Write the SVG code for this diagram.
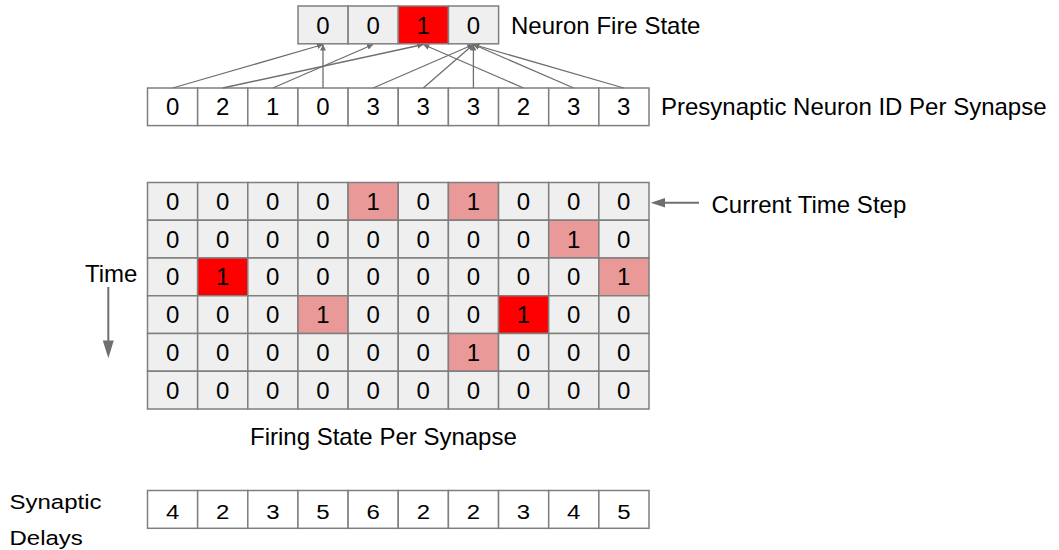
<svg xmlns="http://www.w3.org/2000/svg" width="1059" height="550" viewBox="0 0 1059 550">
<defs>
<style>
.c{stroke:#7f7f7f;stroke-width:1.5}
.g{fill:#efefef}
.w{fill:#ffffff}
.r{fill:#ff0000}
.p{fill:#ea9999}
text{font-family:"Liberation Sans",Arial,sans-serif;font-size:24px;fill:#000}
.m{text-anchor:middle}
.ln{stroke:#6f6f6f;stroke-width:1.3;fill:none}
</style>
<marker id="ah" viewBox="0 0 10 10" refX="10" refY="5" markerWidth="6" markerHeight="6" markerUnits="userSpaceOnUse" orient="auto">
<path d="M0,0 L10,5 L0,10 z" fill="#6f6f6f"/>
</marker>
</defs>
<rect width="1059" height="550" fill="#ffffff"/>

<g id="neuron-fire-state">
<rect class="c g" x="298" y="6" width="50.15" height="37.8"/>
<rect class="c g" x="348.15" y="6" width="50.15" height="37.8"/>
<rect class="c r" x="398.3" y="6" width="50.15" height="37.8"/>
<rect class="c g" x="448.45" y="6" width="50.15" height="37.8"/>
<text class="m" x="323" y="33.5">0</text>
<text class="m" x="373.1" y="33.5">0</text>
<text class="m" x="423.3" y="33.5">1</text>
<text class="m" x="473.4" y="33.5">0</text>
<text x="511" y="33.5">Neuron Fire State</text>
</g>

<g id="presynaptic-ids">
<rect class="c w" x="147.5" y="88" width="50.15" height="37.6"/>
<rect class="c w" x="197.65" y="88" width="50.15" height="37.6"/>
<rect class="c w" x="247.8" y="88" width="50.15" height="37.6"/>
<rect class="c w" x="297.95" y="88" width="50.15" height="37.6"/>
<rect class="c w" x="348.1" y="88" width="50.15" height="37.6"/>
<rect class="c w" x="398.25" y="88" width="50.15" height="37.6"/>
<rect class="c w" x="448.4" y="88" width="50.15" height="37.6"/>
<rect class="c w" x="498.55" y="88" width="50.15" height="37.6"/>
<rect class="c w" x="548.7" y="88" width="50.15" height="37.6"/>
<rect class="c w" x="598.85" y="88" width="50.15" height="37.6"/>
<text class="m" x="172.6" y="115.3">0</text>
<text class="m" x="222.7" y="115.3">2</text>
<text class="m" x="272.8" y="115.3">1</text>
<text class="m" x="323" y="115.3">0</text>
<text class="m" x="373.1" y="115.3">3</text>
<text class="m" x="423.3" y="115.3">3</text>
<text class="m" x="473.4" y="115.3">3</text>
<text class="m" x="523.5" y="115.3">2</text>
<text class="m" x="573.7" y="115.3">3</text>
<text class="m" x="623.8" y="115.3">3</text>
<text x="661" y="115.3">Presynaptic Neuron ID Per Synapse</text>
</g>

<g id="connectors">
<line class="ln" x1="172.6" y1="88" x2="323" y2="44.5" marker-end="url(#ah)"/>
<line class="ln" x1="222.7" y1="88" x2="423.3" y2="44.5" marker-end="url(#ah)"/>
<line class="ln" x1="272.8" y1="88" x2="373.1" y2="44.5" marker-end="url(#ah)"/>
<line class="ln" x1="323" y1="88" x2="323" y2="44.5" marker-end="url(#ah)"/>
<line class="ln" x1="373.1" y1="88" x2="473.4" y2="44.5" marker-end="url(#ah)"/>
<line class="ln" x1="423.3" y1="88" x2="473.4" y2="44.5" marker-end="url(#ah)"/>
<line class="ln" x1="473.4" y1="88" x2="473.4" y2="44.5" marker-end="url(#ah)"/>
<line class="ln" x1="523.5" y1="88" x2="423.3" y2="44.5" marker-end="url(#ah)"/>
<line class="ln" x1="573.7" y1="88" x2="473.4" y2="44.5" marker-end="url(#ah)"/>
<line class="ln" x1="623.8" y1="88" x2="473.4" y2="44.5" marker-end="url(#ah)"/>
<line x1="699" y1="202.7" x2="664" y2="202.7" stroke="#6f6f6f" stroke-width="2"/>
<polygon points="650.7,202.7 665,198 665,207.4" fill="#6f6f6f"/>
<line x1="108.3" y1="287" x2="108.3" y2="342" stroke="#6f6f6f" stroke-width="2"/>
<polygon points="102.8,340.5 113.8,340.5 108.3,358.3" fill="#6f6f6f"/>
</g>

<g id="firing-state-grid">
<!-- row 0 -->
<rect class="c g" x="147.5" y="182.5" width="50.15" height="37.75"/>
<rect class="c g" x="197.65" y="182.5" width="50.15" height="37.75"/>
<rect class="c g" x="247.8" y="182.5" width="50.15" height="37.75"/>
<rect class="c g" x="297.95" y="182.5" width="50.15" height="37.75"/>
<rect class="c p" x="348.1" y="182.5" width="50.15" height="37.75"/>
<rect class="c g" x="398.25" y="182.5" width="50.15" height="37.75"/>
<rect class="c p" x="448.4" y="182.5" width="50.15" height="37.75"/>
<rect class="c g" x="498.55" y="182.5" width="50.15" height="37.75"/>
<rect class="c g" x="548.7" y="182.5" width="50.15" height="37.75"/>
<rect class="c g" x="598.85" y="182.5" width="50.15" height="37.75"/>
<!-- row 1 -->
<rect class="c g" x="147.5" y="220.25" width="50.15" height="37.75"/>
<rect class="c g" x="197.65" y="220.25" width="50.15" height="37.75"/>
<rect class="c g" x="247.8" y="220.25" width="50.15" height="37.75"/>
<rect class="c g" x="297.95" y="220.25" width="50.15" height="37.75"/>
<rect class="c g" x="348.1" y="220.25" width="50.15" height="37.75"/>
<rect class="c g" x="398.25" y="220.25" width="50.15" height="37.75"/>
<rect class="c g" x="448.4" y="220.25" width="50.15" height="37.75"/>
<rect class="c g" x="498.55" y="220.25" width="50.15" height="37.75"/>
<rect class="c p" x="548.7" y="220.25" width="50.15" height="37.75"/>
<rect class="c g" x="598.85" y="220.25" width="50.15" height="37.75"/>
<!-- row 2 -->
<rect class="c g" x="147.5" y="258" width="50.15" height="37.75"/>
<rect class="c r" x="197.65" y="258" width="50.15" height="37.75"/>
<rect class="c g" x="247.8" y="258" width="50.15" height="37.75"/>
<rect class="c g" x="297.95" y="258" width="50.15" height="37.75"/>
<rect class="c g" x="348.1" y="258" width="50.15" height="37.75"/>
<rect class="c g" x="398.25" y="258" width="50.15" height="37.75"/>
<rect class="c g" x="448.4" y="258" width="50.15" height="37.75"/>
<rect class="c g" x="498.55" y="258" width="50.15" height="37.75"/>
<rect class="c g" x="548.7" y="258" width="50.15" height="37.75"/>
<rect class="c p" x="598.85" y="258" width="50.15" height="37.75"/>
<!-- row 3 -->
<rect class="c g" x="147.5" y="295.75" width="50.15" height="37.75"/>
<rect class="c g" x="197.65" y="295.75" width="50.15" height="37.75"/>
<rect class="c g" x="247.8" y="295.75" width="50.15" height="37.75"/>
<rect class="c p" x="297.95" y="295.75" width="50.15" height="37.75"/>
<rect class="c g" x="348.1" y="295.75" width="50.15" height="37.75"/>
<rect class="c g" x="398.25" y="295.75" width="50.15" height="37.75"/>
<rect class="c g" x="448.4" y="295.75" width="50.15" height="37.75"/>
<rect class="c r" x="498.55" y="295.75" width="50.15" height="37.75"/>
<rect class="c g" x="548.7" y="295.75" width="50.15" height="37.75"/>
<rect class="c g" x="598.85" y="295.75" width="50.15" height="37.75"/>
<!-- row 4 -->
<rect class="c g" x="147.5" y="333.5" width="50.15" height="37.75"/>
<rect class="c g" x="197.65" y="333.5" width="50.15" height="37.75"/>
<rect class="c g" x="247.8" y="333.5" width="50.15" height="37.75"/>
<rect class="c g" x="297.95" y="333.5" width="50.15" height="37.75"/>
<rect class="c g" x="348.1" y="333.5" width="50.15" height="37.75"/>
<rect class="c g" x="398.25" y="333.5" width="50.15" height="37.75"/>
<rect class="c p" x="448.4" y="333.5" width="50.15" height="37.75"/>
<rect class="c g" x="498.55" y="333.5" width="50.15" height="37.75"/>
<rect class="c g" x="548.7" y="333.5" width="50.15" height="37.75"/>
<rect class="c g" x="598.85" y="333.5" width="50.15" height="37.75"/>
<!-- row 5 -->
<rect class="c g" x="147.5" y="371.25" width="50.15" height="37.75"/>
<rect class="c g" x="197.65" y="371.25" width="50.15" height="37.75"/>
<rect class="c g" x="247.8" y="371.25" width="50.15" height="37.75"/>
<rect class="c g" x="297.95" y="371.25" width="50.15" height="37.75"/>
<rect class="c g" x="348.1" y="371.25" width="50.15" height="37.75"/>
<rect class="c g" x="398.25" y="371.25" width="50.15" height="37.75"/>
<rect class="c g" x="448.4" y="371.25" width="50.15" height="37.75"/>
<rect class="c g" x="498.55" y="371.25" width="50.15" height="37.75"/>
<rect class="c g" x="548.7" y="371.25" width="50.15" height="37.75"/>
<rect class="c g" x="598.85" y="371.25" width="50.15" height="37.75"/>

<g class="m">
<text class="m" x="172.6" y="209.9">0</text><text class="m" x="222.7" y="209.9">0</text><text class="m" x="272.8" y="209.9">0</text><text class="m" x="323" y="209.9">0</text><text class="m" x="373.1" y="209.9">1</text><text class="m" x="423.3" y="209.9">0</text><text class="m" x="473.4" y="209.9">1</text><text class="m" x="523.5" y="209.9">0</text><text class="m" x="573.7" y="209.9">0</text><text class="m" x="623.8" y="209.9">0</text>
<text class="m" x="172.6" y="247.6">0</text><text class="m" x="222.7" y="247.6">0</text><text class="m" x="272.8" y="247.6">0</text><text class="m" x="323" y="247.6">0</text><text class="m" x="373.1" y="247.6">0</text><text class="m" x="423.3" y="247.6">0</text><text class="m" x="473.4" y="247.6">0</text><text class="m" x="523.5" y="247.6">0</text><text class="m" x="573.7" y="247.6">1</text><text class="m" x="623.8" y="247.6">0</text>
<text class="m" x="172.6" y="285.4">0</text><text class="m" x="222.7" y="285.4">1</text><text class="m" x="272.8" y="285.4">0</text><text class="m" x="323" y="285.4">0</text><text class="m" x="373.1" y="285.4">0</text><text class="m" x="423.3" y="285.4">0</text><text class="m" x="473.4" y="285.4">0</text><text class="m" x="523.5" y="285.4">0</text><text class="m" x="573.7" y="285.4">0</text><text class="m" x="623.8" y="285.4">1</text>
<text class="m" x="172.6" y="323.1">0</text><text class="m" x="222.7" y="323.1">0</text><text class="m" x="272.8" y="323.1">0</text><text class="m" x="323" y="323.1">1</text><text class="m" x="373.1" y="323.1">0</text><text class="m" x="423.3" y="323.1">0</text><text class="m" x="473.4" y="323.1">0</text><text class="m" x="523.5" y="323.1">1</text><text class="m" x="573.7" y="323.1">0</text><text class="m" x="623.8" y="323.1">0</text>
<text class="m" x="172.6" y="360.9">0</text><text class="m" x="222.7" y="360.9">0</text><text class="m" x="272.8" y="360.9">0</text><text class="m" x="323" y="360.9">0</text><text class="m" x="373.1" y="360.9">0</text><text class="m" x="423.3" y="360.9">0</text><text class="m" x="473.4" y="360.9">1</text><text class="m" x="523.5" y="360.9">0</text><text class="m" x="573.7" y="360.9">0</text><text class="m" x="623.8" y="360.9">0</text>
<text class="m" x="172.6" y="398.6">0</text><text class="m" x="222.7" y="398.6">0</text><text class="m" x="272.8" y="398.6">0</text><text class="m" x="323" y="398.6">0</text><text class="m" x="373.1" y="398.6">0</text><text class="m" x="423.3" y="398.6">0</text><text class="m" x="473.4" y="398.6">0</text><text class="m" x="523.5" y="398.6">0</text><text class="m" x="573.7" y="398.6">0</text><text class="m" x="623.8" y="398.6">0</text>
</g>
<text x="250" y="445">Firing State Per Synapse</text>
</g>

<g id="labels">
<text x="711.5" y="213">Current Time Step</text>
<text x="85" y="282">Time</text>
</g>

<g id="synaptic-delays">
<rect class="c w" x="147.5" y="490.5" width="50.15" height="37.8"/>
<rect class="c w" x="197.65" y="490.5" width="50.15" height="37.8"/>
<rect class="c w" x="247.8" y="490.5" width="50.15" height="37.8"/>
<rect class="c w" x="297.95" y="490.5" width="50.15" height="37.8"/>
<rect class="c w" x="348.1" y="490.5" width="50.15" height="37.8"/>
<rect class="c w" x="398.25" y="490.5" width="50.15" height="37.8"/>
<rect class="c w" x="448.4" y="490.5" width="50.15" height="37.8"/>
<rect class="c w" x="498.55" y="490.5" width="50.15" height="37.8"/>
<rect class="c w" x="548.7" y="490.5" width="50.15" height="37.8"/>
<rect class="c w" x="598.85" y="490.5" width="50.15" height="37.8"/>
<text class="m" transform="translate(172.6,519) scale(1,0.88)">4</text>
<text class="m" transform="translate(222.7,519) scale(1,0.88)">2</text>
<text class="m" transform="translate(272.8,519) scale(1,0.88)">3</text>
<text class="m" transform="translate(323,519) scale(1,0.88)">5</text>
<text class="m" transform="translate(373.1,519) scale(1,0.88)">6</text>
<text class="m" transform="translate(423.3,519) scale(1,0.88)">2</text>
<text class="m" transform="translate(473.4,519) scale(1,0.88)">2</text>
<text class="m" transform="translate(523.5,519) scale(1,0.88)">3</text>
<text class="m" transform="translate(573.7,519) scale(1,0.88)">4</text>
<text class="m" transform="translate(623.8,519) scale(1,0.88)">5</text>
<text transform="translate(9.5,509) scale(1,0.88)">Synaptic</text>
<text transform="translate(9.5,545) scale(1,0.88)">Delays</text>
</g>
</svg>
